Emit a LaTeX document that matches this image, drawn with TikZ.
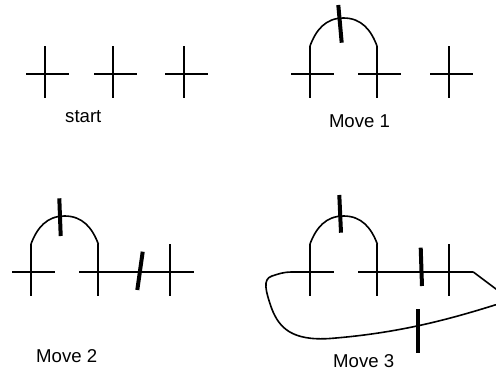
\documentclass[tikz,border=0pt]{standalone}
\usepackage{fontspec}
\setmainfont{Liberation Sans}
\usetikzlibrary{calc}

\tikzset{
    cross/.pic={
        \draw[armline] (-19,0) -- (24,0) (0,-28) -- (0,24);
        \coordinate (-top)  at (0,-28);
        \coordinate (-west) at (-19,0);
        \coordinate (-east) at (24,0);
    }
}

\begin{document}
\begin{tikzpicture}[
    x=1pt, y=-1pt,
    % trazos de las cruces
    armline/.style={line width=2.3pt, line cap=butt},
    % arcos y lazo
    curveline/.style={line width=1.6pt, line cap=round},
    % marcas gruesas
    tally/.style={line width=4pt},
    % rótulos
    caption/.style={font=\fontsize{18.6}{22}\selectfont, anchor=base, inner sep=0pt}
]
    \useasboundingbox (0,0) rectangle (496,375);

    % --- PANEL 1: start ---
    \pic (p1a) at (45,74)  {cross};
    \pic (p1b) at (113,74) {cross};
    \pic (p1c) at (184,74) {cross};
    \node[caption] (lstart) at (83.3,122.3) {start};

    % --- PANEL 2: Move 1 ---
    \pic (p2a) at (310,74)   {cross};
    \pic (p2b) at (377,74)   {cross};
    \pic (p2c) at (449.3,74) {cross};
    \coordinate (p2m) at ($(p2a-top)!0.5!(p2b-top)+(0,-28)$);
    \draw[curveline] (p2a-top) .. controls +(6,-16) and +(-18,0) .. (p2m)
        .. controls +(18,0) and +(-6,-16) .. (p2b-top);
    \draw[tally] (338.3,5) -- (341.7,42.7);
    \node[caption] (lmove1) at (359.5,127.3) {Move 1};

    % --- PANEL 3: Move 2 ---
    \pic (p3a) at (31,272)    {cross};
    \pic (p3b) at (98.3,272)  {cross};
    \pic (p3c) at (170.3,272) {cross};
    \coordinate (p3m) at ($(p3a-top)!0.5!(p3b-top)+(0,-28)$);
    \draw[curveline] (p3a-top) .. controls +(6,-16) and +(-18,0) .. (p3m)
        .. controls +(18,0) and +(-6,-16) .. (p3b-top);
    \draw[tally] (59.3,198.3) -- (60.7,236);
    \draw[armline] (p3b-east) -- (p3c-west);
    \draw[tally] (142.7,251.7) -- (137.3,290);
    \node[caption] (lmove2) at (66.7,362.7) {Move 2};

    % --- PANEL 4: Move 3 ---
    \pic (p4a) at (310,272)   {cross};
    \pic (p4b) at (377.3,272) {cross};
    \pic (p4c) at (449.3,272) {cross};
    \coordinate (p4m) at ($(p4a-top)!0.5!(p4b-top)+(0,-28)$);
    \draw[curveline] (p4a-top) .. controls +(6,-16) and +(-18,0) .. (p4m)
        .. controls +(18,0) and +(-6,-16) .. (p4b-top);
    \draw[tally] (339.3,195) -- (341,232.7);
    \draw[armline] (p4b-east) -- (p4c-west);
    \draw[tally] (420.7,247.7) -- (422,286);
    % lazo exterior
    \draw[curveline] (p4c-east) -- (496,289)
        .. controls (510,299) and (508,303) .. (495,305)
        .. controls (450,319) and (400,333) .. (330,338.5)
        .. controls (292,341) and (279,328) .. (271.5,308)
        .. controls (266,292) and (262,279) .. (272,276)
        .. controls (278,274) and (284,272) .. (p4a-west);
    \draw[tally] (417.7,309) -- (417.7,353.3);
    \node[caption] (lmove3) at (363.7,367.7) {Move 3};
\end{tikzpicture}
\end{document}
